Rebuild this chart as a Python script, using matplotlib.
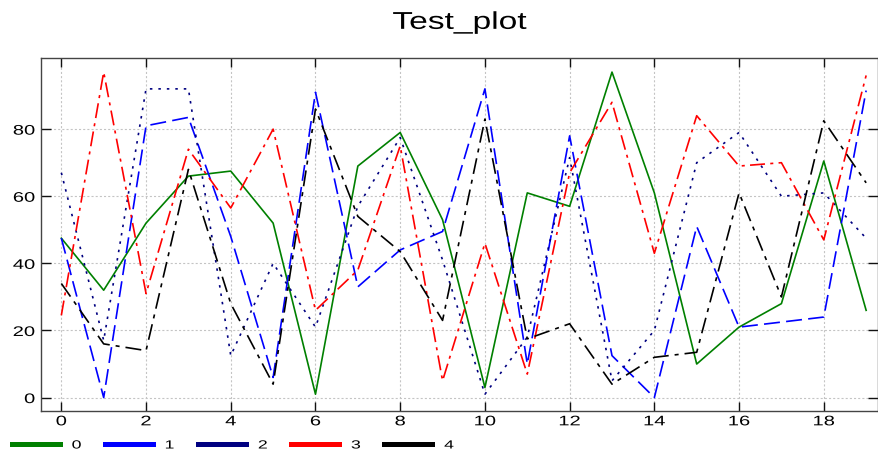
import matplotlib
matplotlib.use("Agg")
import matplotlib.pyplot as plt
from matplotlib.lines import Line2D
from matplotlib.patheffects import AbstractPathEffect
from matplotlib.transforms import Affine2D

plt.rcParams['font.family'] = ['Liberation Sans', 'DejaVu Sans']
plt.rcParams['lines.scale_dashes'] = False

# ---- data ----
x_vals = [0, 1, 2, 3, 4, 5, 6, 7, 8, 9, 10, 11, 12, 13, 14, 15, 16, 17, 18, 19]
series_names = ['0', '1', '2', '3', '4']
s0 = [47.5, 32, 52, 66, 67.5, 52, 1, 69, 79, 53, 3, 61, 57, 97, 61, 10, 21, 28, 70.5, 26]
s1 = [47.5, 0, 81, 83.5, 48, 6, 91, 33, 44, 49.5, 92, 10, 78, 12.5, 0, 51, 21, 22.5, 24, 91.5]
s2 = [67, 17, 92, 92, 12.5, 40, 21, 57, 77.5, 41, 1, 18, 71.5, 5, 20, 70, 79, 60, 61, 47.5]
s3 = [24.5, 97, 31, 74, 56.5, 80, 26, 38, 75, 5, 46, 7, 67, 88, 43, 84, 69, 70, 47, 96]
s4 = [34, 16, 14, 68, 28, 4, 86, 54, 43.5, 23, 83, 17.5, 22, 4, 12, 13.5, 61, 30, 82.5, 64]
x_ticks = [0, 2, 4, 6, 8, 10, 12, 14, 16, 18]
y_ticks = [0, 20, 40, 60, 80]
title = 'Test_plot'

series = [s0, s1, s2, s3, s4]
colors = ['#008000', '#0000ff', '#000080', '#ff0000', '#000000']
styles = ['-', (0, (11.5, 4.5)), (0, (1.8, 4.3)), (0, (10.8, 3.8, 2.2, 3.8)),
          (0, (11.5, 4.3, 2.9, 4.3))]


class HStretch(AbstractPathEffect):
    """Draw text glyphs widened horizontally about an anchor."""
    def __init__(self, sx, anchor='center'):
        super().__init__()
        self.sx = sx
        self.anchor = anchor

    def draw_path(self, renderer, gc, tpath, affine, rgbFace=None):
        ext = tpath.get_extents(affine)
        if self.anchor == 'right':
            cx = ext.x1
        elif self.anchor == 'left':
            cx = ext.x0
        else:
            cx = 0.5 * (ext.x0 + ext.x1)
        t = affine + Affine2D().translate(-cx, 0).scale(self.sx, 1.0).translate(cx, 0)
        renderer.draw_path(gc, tpath, t, rgbFace)


W, H = 879, 452
fig = plt.figure(figsize=(W / 100, H / 100), dpi=100)
# axes frame: left 41px, right 878px, top 59px, bottom 412px (from top)
ax = fig.add_axes([41 / W, (H - 412) / H, (878 - 41) / W, (412 - 59) / H])

for ys, c, ls in zip(series, colors, styles):
    ax.plot(x_vals, ys, color=c, linestyle=ls, linewidth=1.2)

ax.set_xlim(-0.48, 19.28)
ax.set_ylim(-4.0, 101.2)
ax.set_xticks(x_ticks)
ax.set_yticks(y_ticks)
ax.minorticks_off()
ax.grid(True, color='#c4c4c4', linestyle=(0, (1.5, 1.5)), linewidth=0.8)
ax.set_axisbelow(True)

for sp in ax.spines.values():
    sp.set_color('#444444')
    sp.set_linewidth(1.0)

ax.tick_params(axis='x', direction='in', length=6.5, width=1.0, color='#111111',
               top=True, bottom=True, labelsize=10, pad=2.4)
ax.tick_params(axis='y', direction='in', length=7.0, width=1.0, color='#111111',
               left=True, right=True, labelsize=10, pad=4.3)

for lab in ax.get_xticklabels():
    lab.set_path_effects([HStretch(1.45, 'center')])
for lab in ax.get_yticklabels():
    lab.set_path_effects([HStretch(1.45, 'right')])

ttl = ax.set_title(title, fontsize=17.5, pad=21)
ttl.set_path_effects([HStretch(1.38, 'center')])

handles = [Line2D([], [], color=c, linewidth=3.6) for c in colors]
leg = fig.legend(handles, series_names, loc='center left', bbox_to_anchor=(12 / W, 5.5 / H),
                 ncol=5, frameon=False, fontsize=8.5, borderpad=0, borderaxespad=0,
                 handlelength=4.07, handletextpad=1.0, columnspacing=2.26)
for t in leg.get_texts():
    t.set_path_effects([HStretch(1.5, 'left')])

fig.savefig('out.png', dpi=100)
